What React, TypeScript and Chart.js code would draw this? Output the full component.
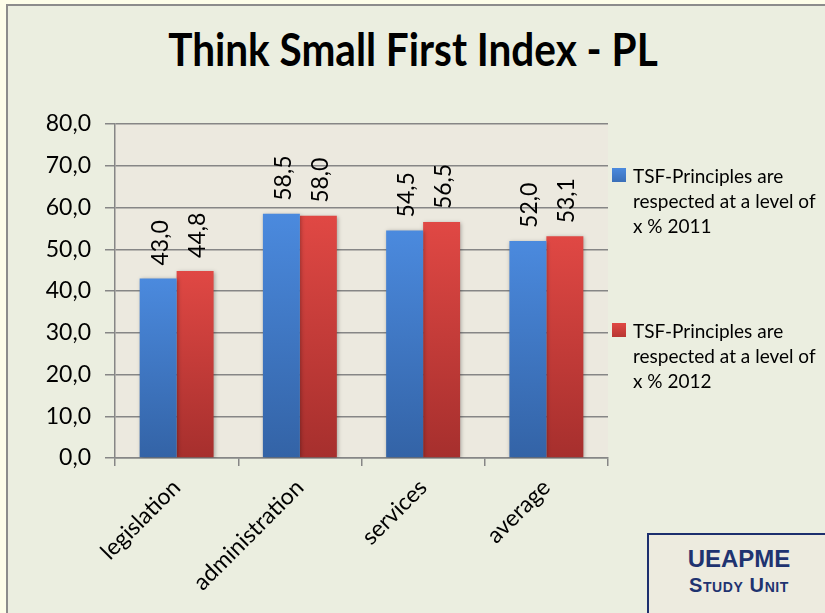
import React, { useEffect, useRef } from "react";
import { Chart, registerables } from "chart.js";

Chart.register(...registerables);

const categories = ["legislation", "administration", "services", "average"];
const values2011 = [43.0, 58.5, 54.5, 52.0];
const values2012 = [44.8, 58.0, 56.5, 53.1];
const legend2011 = ["TSF-Principles are", "respected at a level of", "x % 2011"];
const legend2012 = ["TSF-Principles are", "respected at a level of", "x % 2012"];
const titleText = "Think Small First Index - PL";
const yMin = 0;
const yMax = 80;
const yStep = 10;

const FONT = "Lato, 'Open Sans', sans-serif";
const fmt = (v: number) => Number(v).toFixed(1).replace(".", ",");

function barGradient(top: string, bottom: string) {
  return (ctx: any) => {
    const chart = ctx.chart;
    if (!chart.chartArea || ctx.type !== "data") return bottom;
    const y = chart.scales.y;
    const v = ctx.parsed ? ctx.parsed.y : ctx.raw;
    const yTop = y.getPixelForValue(v);
    const yBot = y.getPixelForValue(0);
    const g = chart.ctx.createLinearGradient(0, yTop, 0, yBot);
    g.addColorStop(0, top);
    g.addColorStop(1, bottom);
    return g;
  };
}

const plotBgPlugin = {
  id: "plotBg",
  beforeDraw(chart: any) {
    const { ctx, chartArea } = chart;
    ctx.save();
    ctx.fillStyle = "#ece9df";
    ctx.fillRect(chartArea.left, chartArea.top, chartArea.right - chartArea.left, chartArea.bottom - chartArea.top);
    ctx.restore();
  },
  beforeDatasetsDraw(chart: any) {
    const ctx = chart.ctx;
    ctx.save();
    ctx.shadowColor = "rgba(0,0,0,0.3)";
    ctx.shadowBlur = 4;
    ctx.shadowOffsetX = 1;
    ctx.shadowOffsetY = 1;
  },
  afterDatasetsDraw(chart: any) {
    const ctx = chart.ctx;
    ctx.restore();
    ctx.save();
    ctx.fillStyle = "#000";
    ctx.font = `23px ${FONT}`;
    ctx.textAlign = "left";
    ctx.textBaseline = "middle";
    chart.data.datasets.forEach((ds: any, di: number) => {
      const meta = chart.getDatasetMeta(di);
      meta.data.forEach((el: any, i: number) => {
        ctx.save();
        ctx.translate(el.x + 2, el.y - 13);
        ctx.rotate(-Math.PI / 2);
        ctx.fillText(fmt(ds.data[i]), 0, 0);
        ctx.restore();
      });
    });
    ctx.restore();
  },
};

export default function App() {
  const ref = useRef<HTMLCanvasElement | null>(null);

  useEffect(() => {
    if (!ref.current) return;
    const chart = new Chart(ref.current, {
      type: "bar",
      data: {
        labels: categories,
        datasets: [
          {
            label: legend2011.join(" "),
            data: values2011,
            backgroundColor: barGradient("#4b8ade", "#3363a6"),
            borderWidth: 0,
          },
          {
            label: legend2012.join(" "),
            data: values2012,
            backgroundColor: barGradient("#e04844", "#a62f2d"),
            borderWidth: 0,
          },
        ],
      },
      options: {
        animation: false,
        responsive: false,
        maintainAspectRatio: false,
        devicePixelRatio: 1,
        layout: { padding: { top: 124, right: 217, left: 0, bottom: 0 } },
        datasets: { bar: { barPercentage: 1, categoryPercentage: 0.6 } },
        plugins: {
          legend: { display: false },
          title: { display: false },
          tooltip: { enabled: false },
        },
        scales: {
          x: {
            grid: {
              drawOnChartArea: false,
              drawTicks: true,
              tickLength: 8,
              color: "#868686",
              lineWidth: 1.5,
              offset: true,
            },
            border: { color: "#868686", width: 1.5 },
            ticks: {
              maxRotation: 45,
              minRotation: 45,
              font: { family: FONT, size: 23 },
              color: "#000",
              padding: 8,
            },
            afterFit: (s: any) => {
              s.height = 155;
            },
          },
          y: {
            min: yMin,
            max: yMax,
            ticks: {
              stepSize: yStep,
              callback: (v: any) => fmt(v),
              font: { family: FONT, size: 23 },
              color: "#000",
              padding: 14,
            },
            grid: { color: "#868686", lineWidth: 1.5, tickLength: 10 },
            border: { color: "#868686", width: 1.5 },
            afterFit: (s: any) => {
              s.width = 115;
            },
          },
        },
      },
      plugins: [plotBgPlugin],
    });
    return () => chart.destroy();
  }, []);

  const legendItem = (lines: string[], top: number, c1: string, c2: string) => (
    <div style={{ position: "absolute", left: 612, top, width: 213 }}>
      <div
        style={{
          position: "absolute",
          left: 0,
          top: 1,
          width: 14,
          height: 14,
          background: `linear-gradient(${c1}, ${c2})`,
        }}
      />
      <div
        style={{
          position: "absolute",
          left: 21,
          top: -4,
          font: `19px ${FONT}`,
          lineHeight: "25px",
          color: "#000",
          whiteSpace: "nowrap",
        }}
      >
        {lines.map((l, i) => (
          <div key={i}>{l}</div>
        ))}
      </div>
    </div>
  );

  return (
    <div
      style={{
        position: "fixed",
        left: 0,
        top: 0,
        width: 825,
        height: 613,
        overflow: "hidden",
        background: "#fdfde9",
      }}
    >
      <div
        style={{
          position: "absolute",
          left: 6,
          top: 4,
          width: 840,
          height: 640,
          border: "2px solid #8c8c8c",
          background: "#ebeee0",
        }}
      />
      <div
        style={{
          position: "absolute",
          left: 0,
          top: 22,
          width: 825,
          textAlign: "center",
        }}
      >
        <span
          style={{
            display: "inline-block",
            font: `bold 45px ${FONT}`,
            color: "#000",
            transform: "scaleX(0.9)",
            whiteSpace: "nowrap",
          }}
        >
          {titleText}
        </span>
      </div>
      <canvas ref={ref} width={825} height={613} style={{ position: "absolute", left: 0, top: 0 }} />
      {legendItem(legend2011, 167, "#4b8ade", "#3a6fb8")}
      {legendItem(legend2012, 322, "#e04844", "#b83532")}
      <div
        style={{
          position: "absolute",
          left: 647,
          top: 533,
          width: 180,
          height: 100,
          border: "2px solid #1c2f6e",
          background: "#edebdf",
          textAlign: "center",
          color: "#1f3370",
          fontFamily: "'Liberation Sans', Arial, sans-serif",
          fontWeight: "bold",
        }}
      >
        <div style={{ fontSize: 24, lineHeight: "24px", marginTop: 12 }}>UEAPME</div>
        <div style={{ fontSize: 20, fontVariant: "small-caps", letterSpacing: "0.6px", lineHeight: "20px", marginTop: 4 }}>Study Unit</div>
      </div>
    </div>
  );
}
